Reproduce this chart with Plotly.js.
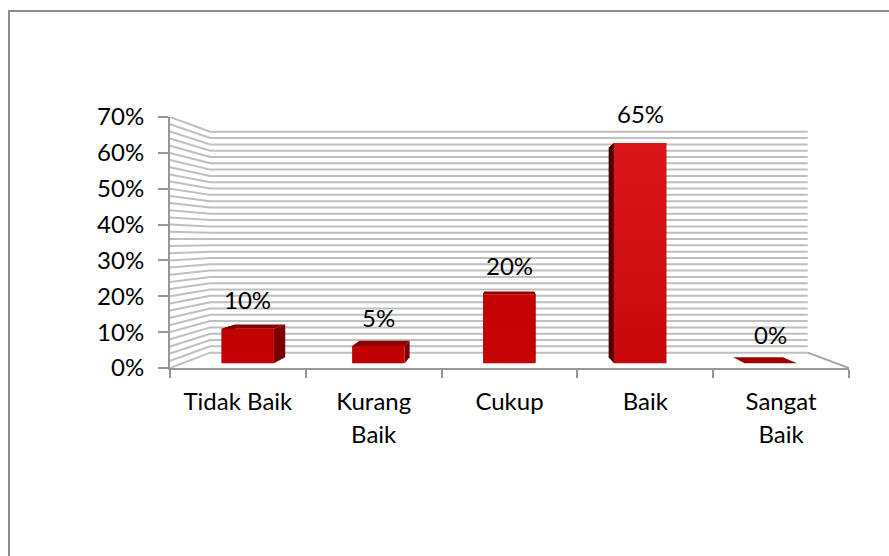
<!DOCTYPE html>
<html>
<head>
<meta charset="utf-8">
<script src="https://cdn.plot.ly/plotly-3.0.1.min.js"></script>
<style>html,body{margin:0;padding:0;background:#fff}#chart{width:889px;height:556px}</style>
</head>
<body>
<div id="chart"></div>
<script>
// ---- data ----
const categories = ["Tidak Baik", "Kurang<br>Baik", "Cukup", "Baik", "Sangat<br>Baik"];
const barValues = [10, 5, 20, 63.8, 0];          // drawn heights
const dataLabels = ["10%", "5%", "20%", "65%", "0%"];

// ---- axis settings ----
const yTicks = [0, 10, 20, 30, 40, 50, 60, 70];
const gridStep = 2;
const yMax = 70;

// ---- styles ----
const gridColor = "#bfbfbf";
const axisColor = "#969696";
const frontTop = ["#c00000", "#c00000", "#c40202", "#da1717", "#c00000"];
const frontBottom = ["#c40404", "#c00000", "#c60404", "#c80808", "#c00000"];
const sideColor = ["#780000", "#780000", "#780000", "#4c0000", "#780000"];
const topColor = ["#8c0000", "#8c0000", "#8c0000", "#8c0000", "#990000"];

// ---- perspective of the pseudo 3-D box, in axis units ----
const vanish = {x: 2.467, y: 35.7};
const wallScale = 0.88, barFrontScale = 0.963, barBackScale = 0.916, barHalf = 0.2;
const project = (c, v, s) => [vanish.x + (c - vanish.x) * s, vanish.y + (v - vanish.y) * s];

const traces = [];
function poly(points, opts) {
  traces.push(Object.assign({
    type: "scatter", mode: "lines", hoverinfo: "skip", showlegend: false,
    x: points.map(p => p[0]), y: points.map(p => p[1])
  }, opts));
}
const face = (points, color) => poly(points.concat([points[0]]), {fill: "toself", fillcolor: color, line: {width: 0}});

// gridlines: side wall then back wall
const nCat = categories.length;
for (let v = 0; v <= yMax; v += gridStep) {
  poly([project(0, v, 1), project(0, v, wallScale), project(nCat, v, wallScale)],
       {line: {color: gridColor, width: 2}});
}
// right floor edge
poly([project(nCat, 0, wallScale), project(nCat, 0, 1)], {line: {color: "#a6a6a6", width: 2}});

// bars
barValues.forEach((val, i) => {
  const a = i + 0.5 - barHalf, b = i + 0.5 + barHalf;
  const F = barFrontScale, B = barBackScale;
  face([project(a, val, F), project(a, val, B), project(b, val, B), project(b, val, F)], topColor[i]);
  face([project(a, 0, F), project(a, 0, B), project(a, val, B), project(a, val, F)], sideColor[i]);
  face([project(b, 0, F), project(b, 0, B), project(b, val, B), project(b, val, F)], sideColor[i]);
  const front = [project(a, 0, F), project(b, 0, F), project(b, val, F), project(a, val, F), project(a, 0, F)];
  poly(front, {fill: "toself", line: {width: 0}, fillcolor: frontBottom[i],
    fillgradient: val > 0 ? {type: "vertical", colorscale: [[0, frontBottom[i]], [1, frontTop[i]]]} : undefined});
});

const W = 889, H = 556;
const font = {family: "Lato, Carlito, Calibri, sans-serif", size: 24, color: "#000"};
const layout = {
  width: W, height: H, margin: {l: 0, r: 0, t: 0, b: 0},
  paper_bgcolor: "#fff", plot_bgcolor: "rgba(0,0,0,0)", showlegend: false, hovermode: false,
  font: font,
  xaxis: {
    domain: [170 / W, 849 / W], range: [0, nCat], type: "linear", automargin: false,
    tickmode: "array", tickvals: categories.map((_, i) => i + 0.5), ticktext: categories,
    ticks: "", tickangle: 0, tickfont: font, ticklabelstandoff: 11,
    showgrid: false, zeroline: false, showline: true, linecolor: axisColor, linewidth: 2,
    minor: {tickmode: "array", tickvals: categories.map((_, i) => i).concat([nCat]),
            ticks: "outside", ticklen: 8, tickwidth: 2, tickcolor: axisColor, showgrid: false}
  },
  yaxis: {
    domain: [1 - 368 / H, 1 - 117 / H], range: [0, yMax], type: "linear", automargin: false,
    tickmode: "array", tickvals: yTicks, ticktext: yTicks.map(v => v + "%"),
    ticks: "outside", ticklen: 10, tickwidth: 2, tickcolor: axisColor, tickfont: font, ticklabelstandoff: 9,
    showgrid: false, zeroline: false, showline: true, linecolor: axisColor, linewidth: 2
  },
  annotations: dataLabels.map((t, i) => {
    const p = project(i + 0.5, barValues[i], barFrontScale);
    return {x: p[0], y: p[1], xref: "x", yref: "y", text: t, showarrow: false,
            xanchor: "center", yanchor: "middle", yshift: 29, font: font};
  }),
  shapes: [
    {type: "line", xref: "paper", yref: "paper", x0: 9 / W, x1: 9 / W, y0: 0, y1: 1 - 10 / H, line: {color: "#8c8c8c", width: 2}},
    {type: "line", xref: "paper", yref: "paper", x0: 8 / W, x1: 1, y0: 1 - 11 / H, y1: 1 - 11 / H, line: {color: "#8c8c8c", width: 2}}
  ]
};
Plotly.newPlot("chart", traces, layout, {displayModeBar: false, staticPlot: true}).then(() => {
  // widen the line spacing of the two-line category labels
  document.querySelectorAll("#chart .xtick text tspan.line").forEach(t => {
    if (parseFloat(t.getAttribute("dy")) > 0) t.setAttribute("dy", "33px");
  });
});
</script>
</body>
</html>
